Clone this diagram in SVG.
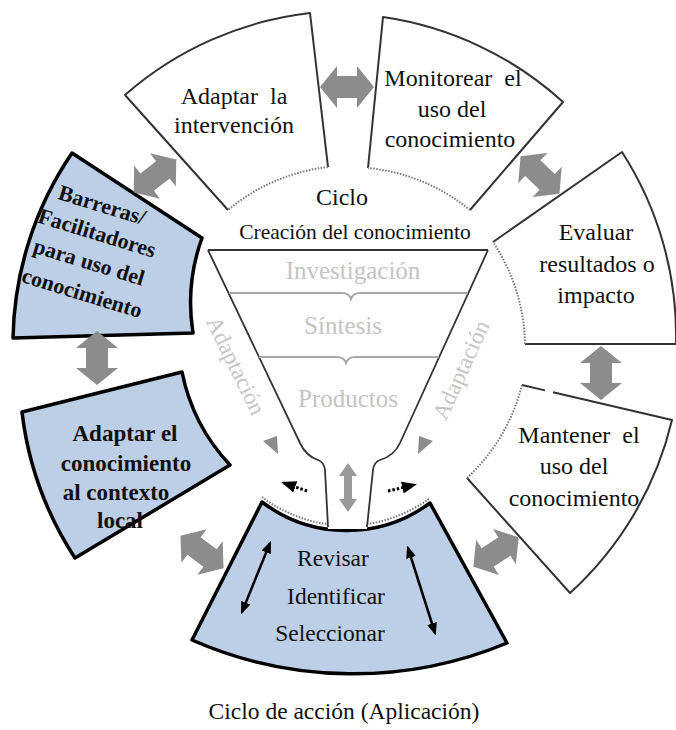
<svg xmlns="http://www.w3.org/2000/svg" width="676" height="730" viewBox="0 0 676 730">
<style>
.wbox{fill:#fff;stroke:#333;stroke-width:2;stroke-linejoin:round}
.wfill{fill:#fff;stroke:none}
.bbox{fill:#bccfe6;stroke:#000;stroke-width:3.5;stroke-linejoin:round}
.dot{fill:none;stroke:#777;stroke-width:2;stroke-dasharray:1.5 1.5}
.t{font-family:"Liberation Serif","Times New Roman",serif;font-size:24px;fill:#111;text-anchor:middle}
.tb{font-family:"Liberation Serif","Times New Roman",serif;font-size:22px;font-weight:bold;fill:#111;text-anchor:middle}
.tg{font-family:"Liberation Serif","Times New Roman",serif;font-size:25px;fill:#c4c4c4;text-anchor:middle}
.fat{fill:#8c8c8c}
.funnel{fill:none;stroke:#333;stroke-width:1.8}
.fline{fill:none;stroke:#a8a8a8;stroke-width:2}
</style>
<defs>
<path id="fatArrow" d="M -27,0 L -10,-21 L -10,-11 L 10,-11 L 10,-21 L 27,0 L 10,21 L 10,11 L -10,11 L -10,21 Z"/>
<marker id="bh" viewBox="0 0 10 10" refX="8" refY="5" markerWidth="5" markerHeight="5" orient="auto-start-reverse"><path d="M0,1 L10,5 L0,9 Z" fill="#000"/></marker>
</defs>
<rect width="676" height="730" fill="#fff"/>

<g id="adaptar-intervencion">
<path class="wfill" d="M 125,95 A 340 340 0 0 1 310,13 L 328,167 A 190 190 0 0 0 228,210 Z"/>
<path class="wbox" fill="none" d="M 228,210 L 125,95 A 340 340 0 0 1 310,13 L 328,167"/>
<path class="dot" d="M 328,167 A 190 190 0 0 0 228,210"/>
<text class="t" x="234" y="104" xml:space="preserve">Adaptar  la</text>
<text class="t" x="234" y="133">intervención</text>
</g>

<g id="monitorear">
<path class="wfill" d="M 383,17 A 340 340 0 0 1 563,102 L 470,210 A 190 190 0 0 0 368,168 Z"/>
<path class="wbox" fill="none" d="M 368,168 L 383,17 A 340 340 0 0 1 563,102 L 470,210"/>
<path class="dot" d="M 470,210 A 190 190 0 0 0 368,168"/>
<text class="t" x="453" y="86" xml:space="preserve">Monitorear  el</text>
<text class="t" x="452" y="117">uso del</text>
<text class="t" x="450" y="147">conocimiento</text>
</g>

<g id="evaluar">
<path class="wfill" d="M 493,242 L 622,152 A 340 340 0 0 1 676,344 L 525,344 A 190 190 0 0 0 493,242 Z"/>
<path class="wbox" fill="none" d="M 493,242 L 622,152 A 340 340 0 0 1 676,344 L 525,344"/>
<path class="dot" d="M 525,344 A 190 190 0 0 0 493,242"/>
<text class="t" x="596" y="240">Evaluar</text>
<text class="t" x="597" y="272">resultados o</text>
<text class="t" x="596" y="303">impacto</text>
</g>

<g id="mantener">
<path class="wfill" d="M 522,385 L 672,420 A 340 340 0 0 1 570,593 L 467,478 A 190 190 0 0 0 522,385 Z"/>
<path class="wbox" fill="none" d="M 522,385 L 545,390.4 M 553,392.3 L 672,420 A 340 340 0 0 1 570,593 L 467,478"/>
<path class="dot" d="M 467,478 A 190 190 0 0 0 522,385"/>
<text class="t" x="579" y="443" xml:space="preserve">Mantener  el</text>
<text class="t" x="574" y="474">uso del</text>
<text class="t" x="574" y="506">conocimiento</text>
</g>

<g id="barreras">
<path class="bbox" d="M 72,153 L 202,238 A 190 190 0 0 0 193,333 L 13,338 A 340 340 0 0 1 72,153 Z"/>
<text class="tb" font-size="21.5" transform="translate(100,212) rotate(17)">Barreras/</text>
<text class="tb" font-size="21.5" transform="translate(95,240) rotate(17)">Facilitadores</text>
<text class="tb" font-size="21.5" transform="translate(87,269) rotate(17)">para uso del</text>
<text class="tb" font-size="21.5" transform="translate(80,300) rotate(17)">conocimiento</text>
</g>

<g id="adaptar-conocimiento">
<path class="bbox" d="M 22,412 L 182,372 A 190 190 0 0 0 230,465 L 75,558 A 340 340 0 0 1 22,412 Z"/>
<text class="tb" style="font-size:23px" x="125" y="441">Adaptar el</text>
<text class="tb" style="font-size:23px" x="126" y="471">conocimiento</text>
<text class="tb" style="font-size:23px" x="116" y="500">al contexto</text>
<text class="tb" style="font-size:23px" x="120" y="528">local</text>
</g>

<g id="revisar">
<path class="dot" d="M 262,497 A 140 140 0 0 0 430,498"/>
<path class="bbox" d="M 262,502 A 140 140 0 0 0 430,503 L 507,643 A 400 400 0 0 1 192,640 Z"/>
<text class="t" style="font-size:23.5px" x="333" y="566">Revisar</text>
<text class="t" style="font-size:23.5px" x="336" y="604">Identificar</text>
<text class="t" style="font-size:23.5px" x="330" y="641">Seleccionar</text>
</g>

<g id="creacion">
<path fill="#fff" stroke="none" d="M 208,250 L 488,250 L 400,443 Q 394,456 380,460 Q 374,462 373,470 L 367,529 L 328,529 L 325,470 Q 324,462 318,460 Q 306,456 300,443 Z"/>
<path class="funnel" d="M 208,250 L 488,250"/>
<path class="funnel" d="M 208,250 L 300,443 Q 306,456 318,460 Q 324,462 325,470 L 328,527"/>
<path class="funnel" d="M 488,250 L 400,443 Q 394,456 380,460 Q 374,462 373,470 L 367,527"/>
<path class="fline" d="M 229,293 L 342,293 Q 349,293 351,299 Q 353,293 360,293 L 468,293"/>
<path class="fline" d="M 259,357 L 337,357 Q 344,357 346,363 Q 348,357 355,357 L 439,357"/>
<text class="t" x="342" y="205">Ciclo</text>
<text class="t" style="font-size:21.5px" x="355" y="239">Creación del conocimiento</text>
<text class="tg" x="353" y="279">Investigación</text>
<text class="tg" x="343" y="334">Síntesis</text>
<text class="tg" x="348" y="407">Productos</text>
<text class="tg" style="font-size:23px" transform="translate(229,369) rotate(64)">Adaptación</text>
<text class="tg" style="font-size:23px" transform="translate(468,373) rotate(-65.6)">Adaptación</text>
</g>

<g id="connectors">
<use href="#fatArrow" class="fat" transform="translate(347,87)"/>
<use href="#fatArrow" class="fat" transform="translate(155,176) rotate(-38)"/>
<use href="#fatArrow" class="fat" transform="translate(540,175) rotate(44)"/>
<use href="#fatArrow" class="fat" transform="translate(601,373) rotate(90)"/>
<use href="#fatArrow" class="fat" transform="translate(496,552) rotate(-33)"/>
<use href="#fatArrow" class="fat" transform="translate(202,552) rotate(37)"/>
<use href="#fatArrow" class="fat" transform="translate(97,358) rotate(90)"/>
<path fill="#999" d="M 348,463 L 357,476 L 352,476 L 352,499 L 357,499 L 348,512 L 339,499 L 344,499 L 344,476 L 339,476 Z"/>
<polygon fill="#8c8c8c" points="263,441 277,436 278,454"/>
<polygon fill="#8c8c8c" points="433,441 419,436 418,454"/>
<path d="M 307,491 L 284,483" fill="none" stroke="#000" stroke-width="3" stroke-dasharray="2.5 2" marker-end="url(#bh)"/>
<path d="M 388,491 L 414,485" fill="none" stroke="#000" stroke-width="3" stroke-dasharray="2.5 2" marker-end="url(#bh)"/>
<path d="M 270,543 L 242,612" fill="none" stroke="#000" stroke-width="2.5" marker-start="url(#bh)" marker-end="url(#bh)"/>
<path d="M 408,548 L 435,633" fill="none" stroke="#000" stroke-width="2.5" marker-start="url(#bh)" marker-end="url(#bh)"/>
</g>

<text class="t" style="font-size:23.5px" x="344" y="719">Ciclo de acción (Aplicación)</text>
</svg>
